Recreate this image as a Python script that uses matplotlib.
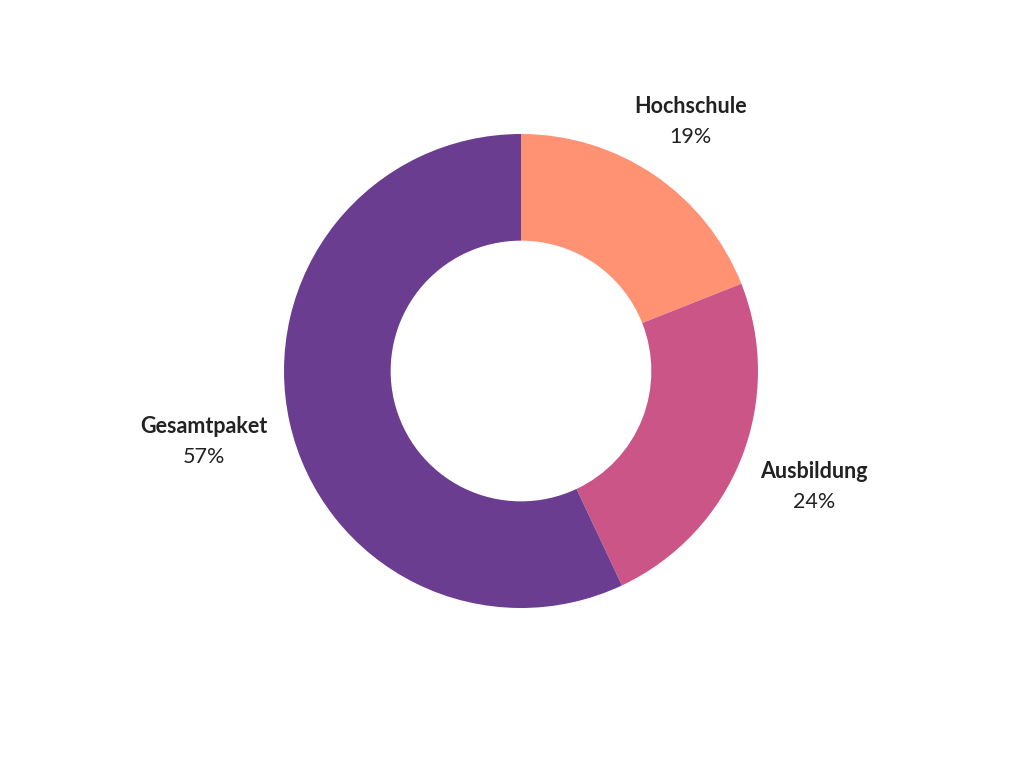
import matplotlib.pyplot as plt
import numpy as np

plt.rcParams['font.family'] = ['Lato', 'DejaVu Sans']

labels = ['Hochschule', 'Ausbildung', 'Gesamtpaket']
shares = [19, 24, 57]
colors = ['#FF9272', '#CB5587', '#6A3D91']
label_dist = [1.27, 1.33, 1.37]

fig = plt.figure(figsize=(10.24, 7.68), dpi=100)
ax = fig.add_axes([0, 0, 1, 1])

wedges, _ = ax.pie(shares, colors=colors, startangle=90, counterclock=False,
                   radius=1.0, wedgeprops=dict(width=0.45, linewidth=0))

for w, name, val, d in zip(wedges, labels, shares, label_dist):
    ang = np.deg2rad((w.theta1 + w.theta2) / 2)
    x, y = d * np.cos(ang), d * np.sin(ang)
    ax.text(x, y + 0.065, name, ha='center', va='center', fontsize=15.5,
            fontweight='bold', color='#222222')
    ax.text(x, y - 0.065, f'{val}%', ha='center', va='center', fontsize=15.5,
            color='#222222')

ax.set_xlim(-521 / 237, (1024 - 521) / 237)
ax.set_ylim(-(768 - 371) / 237, 371 / 237)
ax.set_aspect('auto')
ax.axis('off')

fig.savefig('out.png', dpi=100)
